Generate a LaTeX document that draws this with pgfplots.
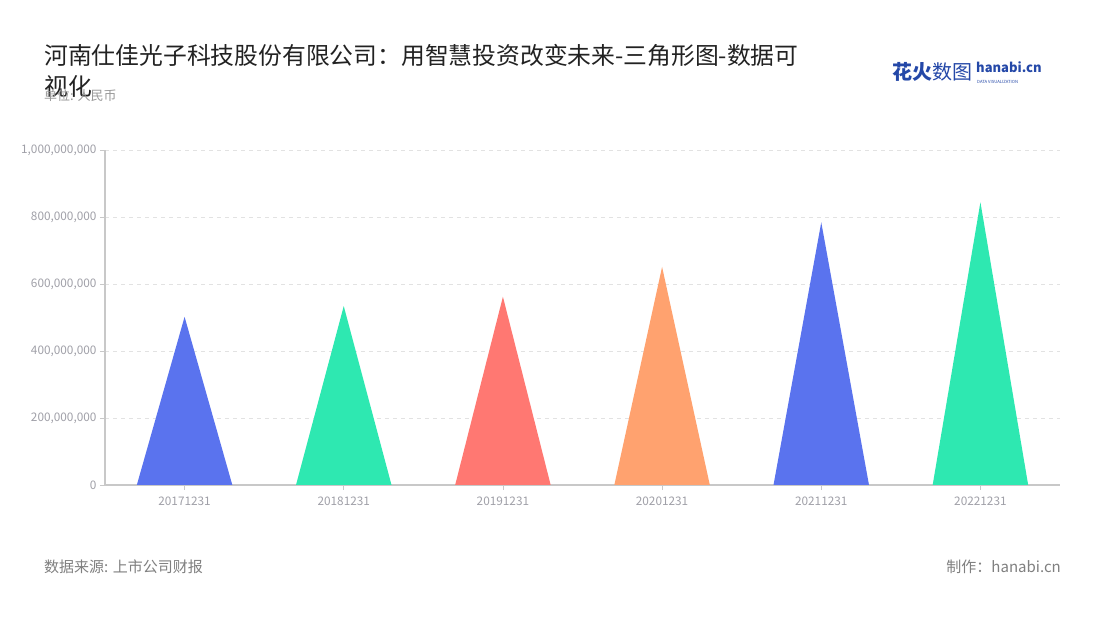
\documentclass[border=0pt]{standalone}
\usepackage{fontspec}
\setmainfont{Noto Sans CJK SC}
\usepackage{pgfplots}
\pgfplotsset{compat=1.18}
\definecolor{cblue}{HTML}{5A73EE}
\definecolor{cgreen}{HTML}{2EE8B1}
\definecolor{cred}{HTML}{FF7872}
\definecolor{corange}{HTML}{FFA26F}
\definecolor{titlec}{HTML}{222222}
\definecolor{subc}{HTML}{999999}
\definecolor{footc}{HTML}{808080}
\definecolor{tickc}{HTML}{A0A0A8}
\definecolor{gridc}{HTML}{E2E2E2}
\definecolor{axisc}{HTML}{C8C8C8}
\definecolor{logoc}{HTML}{2448A8}
\begin{document}
\begin{tikzpicture}[x=1pt,y=1pt]
\path[use as bounding box, fill=white] (0,0) rectangle (1100,620);
% title
\node[anchor=west, font=\fontsize{23.8}{30}\selectfont, text=titlec, inner sep=0] at (44,565) {河南仕佳光子科技股份有限公司：用智慧投资改变未来-三角形图-数据可};
\node[anchor=west, font=\fontsize{23.8}{30}\selectfont, text=titlec, inner sep=0] at (44,534) {视化};
\node[anchor=west, font=\fontsize{13}{15}\selectfont, text=subc, inner sep=0] at (44,524) {单位: 人民币};
% logo
\node[anchor=west, font=\fontsize{20}{22}\selectfont, text=logoc, inner sep=0] at (892,548) {\textbf{花火}数图};
\node[anchor=west, font=\fontsize{13}{14}\selectfont\bfseries, text=logoc, inner sep=0] at (976,553) {hanabi.cn};
\node[anchor=west, font=\fontsize{4.2}{5}\selectfont, text=logoc, inner sep=0] at (977,538) {DATA VISUALIZATION};
% footer
\node[anchor=west, font=\fontsize{15}{17}\selectfont, text=footc, inner sep=0] at (44,53) {数据来源: 上市公司财报};
\node[anchor=east, font=\fontsize{15}{17}\selectfont, text=footc, inner sep=0] at (1061,53) {制作：hanabi.cn};
\begin{axis}[
  at={(105pt,135pt)}, anchor=south west,
  scale only axis, width=955pt, height=335pt,
  xmin=-0.5, xmax=5.5, ymin=0, ymax=1e9,
  axis lines*=left,
  axis line style={draw=axisc, line width=1.2pt},
  xtick={0,1,2,3,4,5},
  xticklabels={20171231,20181231,20191231,20201231,20211231,20221231},
  ytick={0,200000000,400000000,600000000,800000000,1000000000},
  scaled y ticks=false,
  yticklabel style={/pgf/number format/.cd, fixed, precision=0, 1000 sep={,}, assume math mode=true},
  ticklabel style={font=\fontsize{11.8}{13}\selectfont, text=tickc},
  xticklabel style={yshift=-3pt},
  tick align=outside,
  major tick length=5pt,
  tick style={draw=axisc, line width=0.8pt},
  ymajorgrids,
  grid style={draw=gridc, dashed, dash pattern=on 4pt off 4pt, line width=0.9pt},
  clip=false,
]
\addplot[fill=cblue, draw=none] coordinates {(-0.3,0) (0,502000000) (0.3,0)} \closedcycle;
\addplot[fill=cgreen, draw=none] coordinates {(0.7,0) (1,534000000) (1.3,0)} \closedcycle;
\addplot[fill=cred, draw=none] coordinates {(1.7,0) (2,562000000) (2.3,0)} \closedcycle;
\addplot[fill=corange, draw=none] coordinates {(2.7,0) (3,651000000) (3.3,0)} \closedcycle;
\addplot[fill=cblue, draw=none] coordinates {(3.7,0) (4,784000000) (4.3,0)} \closedcycle;
\addplot[fill=cgreen, draw=none] coordinates {(4.7,0) (5,844000000) (5.3,0)} \closedcycle;
\end{axis}
\end{tikzpicture}
\end{document}
